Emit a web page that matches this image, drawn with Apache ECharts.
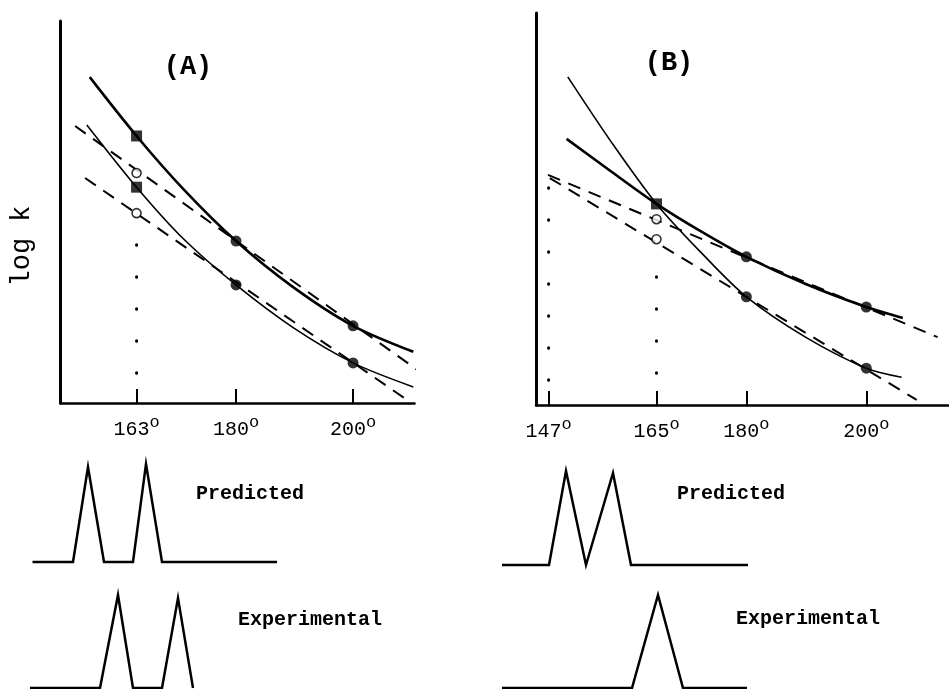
<!DOCTYPE html>
<html>
<head>
<meta charset="utf-8">
<script src="https://cdn.jsdelivr.net/npm/echarts@6/dist/echarts.min.js"></script>
<style>
  html, body { margin: 0; padding: 0; background: #fff; }
  #chart { width: 949px; height: 689px; }
</style>
</head>
<body>
<div id="chart"></div>
<script>
// ---- panel (A): temperature (deg) vs log k (arbitrary units) ----
const ticksA = [163, 180, 200];
const aUpperCurve = [[155, 85.3], [163, 69.9], [171, 56.0], [180, 42.4], [189.7, 30.4], [200, 20.2], [210.3, 13.4]];
const aLowerCurve = [[154.5, 72.8], [163, 56.5], [171, 43.0], [180, 30.9], [189.7, 19.8], [200, 10.5], [210.3, 4.2]];
const aUpperDash = [[152.5, 72.5], [211.5, 8.1]];
const aLowerDash = [[154.2, 58.9], [209.7, 0.3]];
const aSquares = [[163, 69.9], [163, 56.5]];
const aDots = [[180, 42.4], [200, 20.2], [180, 30.9], [200, 10.5]];
const aOpen = [[163, 60.2], [163, 49.7]];
const aDrop = [[163, 41.4], [163, 7.7]];

// ---- panel (B) ----
const ticksB = [147, 165, 180, 200];
const bSteepCurve = [[150.2, 83.7], [157.5, 67.0], [165, 51.3], [172.5, 38.8], [180, 27.6], [190, 17.2], [200, 9.4], [205.9, 7.1]];
const bFlatCurve = [[150.0, 67.9], [157.5, 59.5], [165, 51.3], [172.5, 44.2], [180, 37.8], [190, 30.8], [200, 25.0], [206.1, 22.2]];
const bUpperDash = [[146.9, 58.7], [211.9, 17.3]];
const bLowerDash = [[147.2, 57.9], [208.4, 1.3]];
const bSquares = [[165, 51.3]];
const bDots = [[180, 37.8], [200, 25.0], [180, 27.6], [200, 9.4]];
const bOpen = [[165, 47.4], [165, 42.3]];
const bDrop147 = [[147, 55.4], [147, 6.1]];
const bDrop165 = [[165, 32.7], [165, 7.9]];

// ---- chromatograms: time (arb.) vs response (arb.) ----
const predA = [[1, 0], [17.2, 0], [23.2, 95], [29.6, 0], [41.2, 0], [46.4, 98], [52.8, 0], [98.8, 0]];
const expA = [[0, 0], [28, 0], [35.2, 93], [41.2, 0], [52.8, 0], [59.2, 90], [65.2, 0]];
const predB = [[0, 0], [18.8, 0], [25.6, 94], [33.6, 0], [44.4, 92], [51.6, 0], [98.4, 0]];
const expB = [[0, 0], [52, 0], [62.4, 93], [72.4, 0], [98, 0]];

const FONT = '"Courier New", "Liberation Mono", monospace';

let chart = echarts.init(document.getElementById('chart'));

function tempAxis(grid, min, max, ticks) {
    return {
        type: 'value', gridIndex: grid, min: min, max: max,
        splitLine: {show: false},
        axisLine: {onZero: false, lineStyle: {color: '#000', width: 2.5}},
        axisTick: {inside: true, length: 14, customValues: ticks, lineStyle: {color: '#000', width: 2}},
        axisLabel: {
            customValues: ticks, margin: 11,
            formatter: function (v) { return '{n|' + v + '}{d|o}'; },
            rich: {
                n: {fontFamily: FONT, fontSize: 20, color: '#000', verticalAlign: 'bottom'},
                d: {fontFamily: FONT, fontSize: 17, color: '#000', verticalAlign: 'bottom', padding: [0, 0, 9, 0]}
            }
        }
    };
}

function logAxis(grid) {
    return {
        type: 'value', gridIndex: grid, min: 0, max: 100,
        splitLine: {show: false}, axisTick: {show: false}, axisLabel: {show: false},
        axisLine: {show: true, onZero: false, lineStyle: {color: '#000', width: 3}}
    };
}

function hiddenAxis(grid) {
    return {type: 'value', gridIndex: grid, min: 0, max: 100, show: false, splitLine: {show: false}};
}

function curve(idx, data, width) {
    return {
        type: 'line', xAxisIndex: idx, yAxisIndex: idx, data: data, symbol: 'none',
        smooth: 0.3, clip: false,
        lineStyle: {color: '#000', width: width}, z: 3
    };
}

function dashed(idx, data) {
    return {
        type: 'line', xAxisIndex: idx, yAxisIndex: idx, data: data, symbol: 'none', clip: false,
        lineStyle: {color: '#000', width: 2, type: [13, 9]}, z: 2
    };
}

function dotted(idx, data) {
    return {
        type: 'line', xAxisIndex: idx, yAxisIndex: idx, data: data, symbol: 'none',
        lineStyle: {color: '#000', width: 3, type: [0.5, 31.5], cap: 'round'}, z: 2
    };
}

function marks(idx, data, symbol, size, open) {
    return {
        type: 'scatter', xAxisIndex: idx, yAxisIndex: idx, data: data, symbol: symbol, symbolSize: size,
        itemStyle: open ? {color: '#fff', borderColor: '#000', borderWidth: 1.6} : {color: '#000'}, z: 5
    };
}

function trace(idx, data) {
    return {
        type: 'line', xAxisIndex: idx, yAxisIndex: idx, data: data, symbol: 'none', clip: false,
        lineStyle: {color: '#000', width: 2.5, join: 'miter'}
    };
}

function label(text, x, y, size, bold) {
    return {
        type: 'text', x: x, y: y,
        style: {text: text, font: (bold ? 'bold ' : '') + size + 'px ' + FONT, fill: '#000', align: 'center', verticalAlign: 'middle'}
    };
}

chart.setOption({
    backgroundColor: '#fff',
    animation: false,
    grid: [
        {left: 60.5, top: 21, width: 354, height: 382},
        {left: 536, top: 13, width: 413, height: 392},
        {left: 30, top: 462, width: 250, height: 100},
        {left: 30, top: 588, width: 250, height: 100},
        {left: 502, top: 465, width: 250, height: 100},
        {left: 502, top: 588, width: 250, height: 100}
    ],
    xAxis: [
        tempAxis(0, 150, 210.5, ticksA),
        tempAxis(1, 144.9, 213.8, ticksB),
        hiddenAxis(2), hiddenAxis(3), hiddenAxis(4), hiddenAxis(5)
    ],
    yAxis: [
        logAxis(0), logAxis(1),
        hiddenAxis(2), hiddenAxis(3), hiddenAxis(4), hiddenAxis(5)
    ],
    series: [
        curve(0, aUpperCurve, 2.6),
        curve(0, aLowerCurve, 1.6),
        dashed(0, aUpperDash),
        dashed(0, aLowerDash),
        dotted(0, aDrop),
        marks(0, aSquares, 'rect', 11, false),
        marks(0, aDots, 'circle', 11, false),
        marks(0, aOpen, 'circle', 9, true),

        curve(1, bSteepCurve, 1.6),
        curve(1, bFlatCurve, 2.6),
        dashed(1, bUpperDash),
        dashed(1, bLowerDash),
        dotted(1, bDrop147),
        dotted(1, bDrop165),
        marks(1, bSquares, 'rect', 11, false),
        marks(1, bDots, 'circle', 11, false),
        marks(1, bOpen, 'circle', 9, true),

        trace(2, predA),
        trace(3, expA),
        trace(4, predB),
        trace(5, expB)
    ],
    graphic: [
        label('(A)', 188, 67, 27, true),
        label('(B)', 669, 63, 27, true),
        label('Predicted', 250, 494, 20, true),
        label('Predicted', 731, 494, 20, true),
        label('Experimental', 310, 620, 20, true),
        label('Experimental', 808, 619, 20, true),
        {
            type: 'text', x: 22, y: 246, rotation: Math.PI / 2,
            style: {text: 'log k', font: '27px ' + FONT, fill: '#000', align: 'center', verticalAlign: 'middle'}
        }
    ]
});
</script>
</body>
</html>
